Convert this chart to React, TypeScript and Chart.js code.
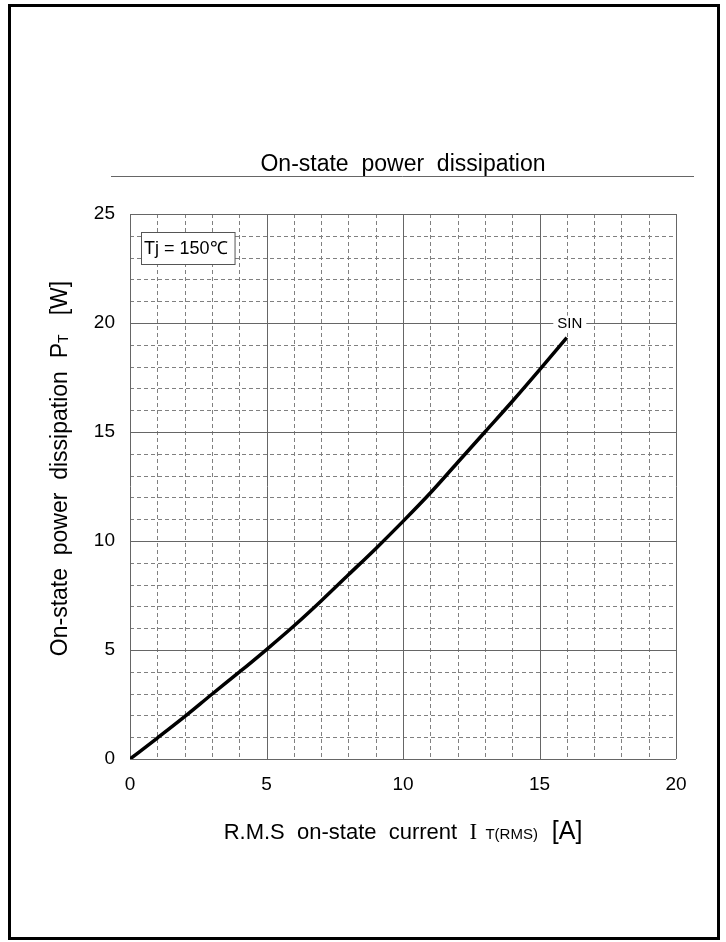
import { useEffect, useRef } from "react";
import { Chart, registerables } from "chart.js";

Chart.register(...registerables);

// RMS on-state current (A) and the matching on-state power dissipation (W), SIN waveform
const currentA = [0, 1, 2, 3, 4, 5, 6, 7, 8, 9, 10, 11, 12, 13, 14, 15, 16];
const powerW = [0, 0.96, 1.94, 2.97, 3.98, 5.02, 6.1, 7.25, 8.45, 9.65, 10.9, 12.2, 13.6, 15.0, 16.4, 17.85, 19.33];

const xMin = 0;
const xMax = 20;
const yMin = 0;
const yMax = 25;
const majorStep = 5;
const minorStep = 1;

const chartTitle = "On-state  power  dissipation";
const curveLabel = "SIN";
const conditionLabel = "Tj = 150\u2103";

const SANS = "'Liberation Sans', Arial, sans-serif";
const SERIF = "'Liberation Serif', 'Times New Roman', serif";

type Part = { text: string; font: string; dy?: number };

function drawRun(ctx: CanvasRenderingContext2D, parts: Part[], cx: number, baseline: number) {
  const widths = parts.map((p) => {
    ctx.font = p.font;
    return ctx.measureText(p.text).width;
  });
  const total = widths.reduce((a, b) => a + b, 0);
  let x = cx - total / 2;
  ctx.textAlign = "left";
  ctx.textBaseline = "alphabetic";
  parts.forEach((p, i) => {
    ctx.font = p.font;
    ctx.fillText(p.text, x, baseline + (p.dy || 0));
    x += widths[i];
  });
}

const decorations = {
  id: "decorations",
  beforeDatasetsDraw(chart: any) {
    const { ctx, chartArea: a, scales } = chart;
    const xs = scales.x;
    const ys = scales.y;
    ctx.save();
    ctx.lineWidth = 1;

    // minor grid (dashed)
    ctx.strokeStyle = "#808080";
    ctx.setLineDash([4, 3]);
    ctx.beginPath();
    for (let v = xMin; v <= xMax; v += minorStep) {
      if (v % majorStep === 0) continue;
      const px = Math.round(xs.getPixelForValue(v)) + 0.5;
      ctx.moveTo(px, a.top);
      ctx.lineTo(px, a.bottom);
    }
    for (let v = yMin; v <= yMax; v += minorStep) {
      if (v % majorStep === 0) continue;
      const py = Math.round(ys.getPixelForValue(v)) + 0.5;
      ctx.moveTo(a.left, py);
      ctx.lineTo(a.right, py);
    }
    ctx.stroke();

    // major grid (solid)
    ctx.setLineDash([]);
    ctx.strokeStyle = "#666";
    ctx.beginPath();
    for (let v = xMin; v <= xMax; v += majorStep) {
      const px = Math.round(xs.getPixelForValue(v)) + 0.5;
      ctx.moveTo(px, a.top);
      ctx.lineTo(px, a.bottom);
    }
    for (let v = yMin; v <= yMax; v += majorStep) {
      const py = Math.round(ys.getPixelForValue(v)) + 0.5;
      ctx.moveTo(a.left, py);
      ctx.lineTo(a.right, py);
    }
    ctx.stroke();

    // condition box
    const bx = a.left + 11;
    const by = a.top + 18;
    ctx.font = `18px ${SANS}`;
    const tw = ctx.measureText(conditionLabel).width;
    const bw = tw + 10;
    const bh = 32;
    ctx.fillStyle = "#fff";
    ctx.fillRect(bx, by, bw, bh);
    ctx.strokeStyle = "#555";
    ctx.strokeRect(bx + 0.5, by + 0.5, bw, bh);
    ctx.fillStyle = "#000";
    ctx.textAlign = "left";
    ctx.textBaseline = "alphabetic";
    ctx.fillText(conditionLabel, bx + 3, by + 22);
    ctx.restore();
  },
  afterDatasetsDraw(chart: any) {
    const { ctx, scales } = chart;
    const n = currentA.length - 1;
    const px = scales.x.getPixelForValue(currentA[n]) + 3;
    const py = scales.y.getPixelForValue(powerW[n]) - 14;
    ctx.save();
    ctx.font = `15px ${SANS}`;
    const w = ctx.measureText(curveLabel).width;
    ctx.fillStyle = "#fff";
    ctx.fillRect(px - w / 2 - 4, py - 8, w + 8, 16);
    ctx.fillStyle = "#000";
    ctx.textAlign = "center";
    ctx.textBaseline = "middle";
    ctx.fillText(curveLabel, px, py);
    ctx.restore();
  },
  afterDraw(chart: any) {
    const { ctx, chartArea: a } = chart;
    const cx = (a.left + a.right) / 2;
    ctx.save();
    ctx.fillStyle = "#000";

    // title and rule
    drawRun(ctx, [{ text: chartTitle, font: `23px ${SANS}` }], cx, 171);
    ctx.strokeStyle = "#666";
    ctx.lineWidth = 1;
    ctx.beginPath();
    ctx.moveTo(111, 176.5);
    ctx.lineTo(694, 176.5);
    ctx.stroke();

    // x axis title
    drawRun(
      ctx,
      [
        { text: "R.M.S  on-state  current  ", font: `22px ${SANS}` },
        { text: "I", font: `23px ${SERIF}` },
        { text: "  T(RMS)", font: `15px ${SANS}` },
        { text: "  [A]", font: `25px ${SANS}` },
      ],
      cx,
      839
    );

    // y axis title
    ctx.translate(67, (a.top + a.bottom) / 2 - 18);
    ctx.rotate(-Math.PI / 2);
    drawRun(
      ctx,
      [
        { text: "On-state  power  dissipation  P", font: `23px ${SANS}` },
        { text: "T", font: `14px ${SANS}`, dy: 1 },
        { text: "   [W]", font: `23px ${SANS}` },
      ],
      0,
      0
    );
    ctx.restore();

    // page frame
    ctx.save();
    ctx.strokeStyle = "#000";
    ctx.lineWidth = 3;
    ctx.strokeRect(9.5, 5.5, 709, 933);
    ctx.restore();
  },
};

export default function App() {
  const canvasRef = useRef<HTMLCanvasElement | null>(null);

  useEffect(() => {
    const canvas = canvasRef.current;
    if (!canvas) return;
    const chart = new Chart(canvas, {
      type: "line",
      data: {
        datasets: [
          {
            label: curveLabel,
            data: currentA.map((x, i) => ({ x, y: powerW[i] })),
            borderColor: "#000",
            borderWidth: 3.5,
            pointRadius: 0,
            fill: false,
            cubicInterpolationMode: "monotone",
          },
        ],
      },
      options: {
        responsive: false,
        animation: false,
        devicePixelRatio: 1,
        layout: { padding: { left: 0, top: 214, right: 50, bottom: 143 } },
        plugins: {
          legend: { display: false },
          tooltip: { enabled: false },
        },
        scales: {
          x: {
            type: "linear",
            min: xMin,
            max: xMax,
            afterFit: (s: any) => {
              s.height = 40;
            },
            grid: { display: false, drawTicks: false },
            border: { display: false },
            ticks: {
              stepSize: majorStep,
              padding: 14,
              color: "#000",
              maxRotation: 0,
              font: { family: SANS, size: 19 },
            },
          },
          y: {
            type: "linear",
            min: yMin,
            max: yMax,
            afterFit: (s: any) => {
              s.width = 130;
            },
            grid: { display: false, drawTicks: false },
            border: { display: false },
            ticks: {
              stepSize: majorStep,
              padding: 15,
              color: "#000",
              font: { family: SANS, size: 19 },
            },
          },
        },
      },
      plugins: [decorations],
    } as any);
    return () => chart.destroy();
  }, []);

  return (
    <div style={{ position: "fixed", left: 0, top: 0, width: 726, height: 942, background: "#fff" }}>
      <canvas ref={canvasRef} width={726} height={942} style={{ display: "block" }} />
    </div>
  );
}
